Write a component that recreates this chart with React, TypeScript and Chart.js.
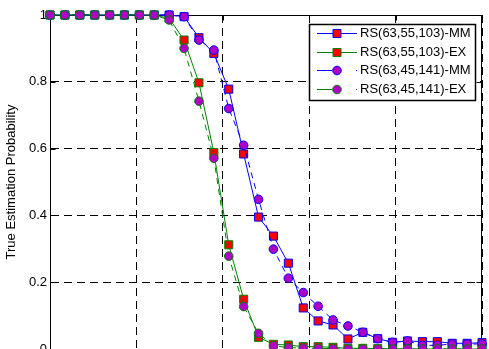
import { useEffect, useRef } from 'react';
import { Chart, registerables } from 'chart.js';

Chart.register(...registerables);

const FONT = '"Liberation Sans", Arial, Helvetica, sans-serif';

// x positions (index of the measurement point; axis labels are cropped in the reference)
const xPoints = [0, 1, 2, 3, 4, 5, 6, 7, 8, 9, 10, 11, 12, 13, 14, 15, 16, 17, 18, 19, 20, 21, 22, 23, 24, 25, 26, 27, 28, 29];
const xGridTicks = [0, 5.8, 11.6, 17.4, 23.2, 29];

const seriesNames = ['RS(63,55,103)-MM', 'RS(63,55,103)-EX', 'RS(63,45,141)-MM', 'RS(63,45,141)-EX'];

const mmSquare = [1, 1, 1, 1, 1, 1, 1, 1, 1, 0.995, 0.932, 0.885, 0.778, 0.584, 0.395, 0.338, 0.257, 0.123, 0.084, 0.072, 0.03, 0.05, 0.031, 0.02, 0.024, 0.022, 0.022, 0.017, 0.017, 0.019];
const exSquare = [1, 1, 1, 1, 1, 1, 1, 1, 0.99, 0.925, 0.797, 0.588, 0.312, 0.149, 0.035, 0.014, 0.012, 0.007, 0.007, 0.005, 0.002, 0.002, 0.001, 0.001, 0, 0, 0, 0, 0, 0];
const mmCircle = [1, 1, 1, 1, 1, 1, 1, 1, 1, 0.995, 0.925, 0.895, 0.72, 0.61, 0.448, 0.299, 0.212, 0.169, 0.128, 0.087, 0.069, 0.05, 0.031, 0.02, 0.024, 0.011, 0.011, 0.015, 0.015, 0.015];
const exCircle = [1, 1, 1, 1, 1, 1, 1, 1, 0.985, 0.9, 0.742, 0.571, 0.278, 0.127, 0.047, 0.01, 0.004, 0.003, 0.002, 0.001, 0, 0, 0, 0, 0, 0, 0, 0, 0, 0];

const yTicks = [0, 0.2, 0.4, 0.6, 0.8, 1];
const yTickLabels = ['0', '0.2', '0.4', '0.6', '0.8', '1'];

const BLUE = '#0000ff';
const GREEN = '#008000';
const RED = '#ff0000';
const MAGENTA = '#b000c8';

type SeriesStyle = { line: string; fill: string; shape: 'rect' | 'circle'; dashed: boolean };
const styles: SeriesStyle[] = [
  { line: BLUE, fill: RED, shape: 'rect', dashed: false },
  { line: GREEN, fill: RED, shape: 'rect', dashed: false },
  { line: BLUE, fill: MAGENTA, shape: 'circle', dashed: true },
  { line: GREEN, fill: MAGENTA, shape: 'circle', dashed: true },
];
const seriesValues = [mmSquare, exSquare, mmCircle, exCircle];

const boxPlugin = {
  id: 'matlabBox',
  beforeDatasetsDraw(chart: any) {
    const { ctx, chartArea } = chart;
    const l = Math.round(chartArea.left) + 0.5;
    const r = Math.round(chartArea.right) - 0.5;
    const t = Math.round(chartArea.top) + 0.5;
    ctx.save();
    ctx.strokeStyle = '#000';
    ctx.lineWidth = 1;
    ctx.setLineDash([]);
    ctx.beginPath();
    ctx.moveTo(l, t);
    ctx.lineTo(r, t);
    ctx.moveTo(r, t);
    ctx.lineTo(r, chartArea.bottom);
    // inner ticks
    const ys = chart.scales.y;
    yTicks.forEach((v) => {
      const py = Math.round(ys.getPixelForValue(v)) + 0.5;
      ctx.moveTo(l, py);
      ctx.lineTo(l + 5, py);
      ctx.moveTo(r, py);
      ctx.lineTo(r - 5, py);
    });
    const xs = chart.scales.x;
    xGridTicks.forEach((v) => {
      const px = Math.round(xs.getPixelForValue(v)) + 0.5;
      ctx.moveTo(px, t);
      ctx.lineTo(px, t + 5);
    });
    ctx.stroke();
    ctx.restore();
  },
};

const legendPlugin = {
  id: 'insideLegend',
  afterDraw(chart: any) {
    const { ctx, chartArea } = chart;
    const bx = chartArea.right - 173;
    const by = chartArea.top + 9;
    const bw = 166;
    const bh = 76;
    ctx.save();
    ctx.fillStyle = '#fff';
    ctx.fillRect(bx, by, bw, bh);
    ctx.strokeStyle = '#000';
    ctx.lineWidth = 1.5;
    ctx.strokeRect(bx + 0.5, by + 0.5, bw, bh);
    ctx.font = `13px ${FONT}`;
    ctx.textBaseline = 'middle';
    seriesNames.forEach((name, k) => {
      const st = styles[k];
      const cy = Math.round(by + 9 + k * 18.6) + 0.5;
      const x1 = bx + 8;
      const x2 = bx + 48;
      const mx = bx + 28;
      ctx.strokeStyle = st.line;
      ctx.lineWidth = 1;
      ctx.setLineDash(st.dashed ? [15, 24] : []);
      ctx.beginPath();
      ctx.moveTo(x1, cy);
      ctx.lineTo(x2, cy);
      ctx.stroke();
      ctx.setLineDash([]);
      ctx.fillStyle = st.fill;
      ctx.beginPath();
      if (st.shape === 'rect') {
        ctx.rect(mx - 4, cy - 4, 8, 8);
      } else {
        ctx.arc(mx, cy, 4.3, 0, Math.PI * 2);
      }
      ctx.fill();
      ctx.stroke();
      ctx.fillStyle = '#000';
      ctx.fillText(name, bx + 51, cy);
    });
    ctx.restore();
  },
};

export default function App() {
  const canvasRef = useRef<HTMLCanvasElement | null>(null);

  useEffect(() => {
    const canvas = canvasRef.current;
    if (!canvas) return;
    const order = [4, 3, 2, 1];
    const datasets = seriesValues.map((vals, k) => {
      const st = styles[k];
      return {
        label: seriesNames[k],
        data: xPoints.map((x, i) => ({ x, y: vals[i] })),
        borderColor: st.line,
        borderWidth: 1,
        borderDash: st.dashed ? [6, 5] : [],
        backgroundColor: st.fill,
        pointStyle: st.shape,
        pointRadius: st.shape === 'rect' ? 5.7 : 4.3,
        pointBorderWidth: 1,
        pointBorderColor: st.line,
        pointBackgroundColor: st.fill,
        pointHoverRadius: st.shape === 'rect' ? 5.7 : 4.3,
        tension: 0,
        fill: false,
        clip: false as any,
        order: order[k],
      };
    });

    const chart = new Chart(canvas, {
      type: 'line',
      data: { datasets },
      options: {
        responsive: false,
        animation: false,
        devicePixelRatio: 1,
        events: [],
        layout: { padding: { left: 0, top: 15, right: 7, bottom: 0 } },
        plugins: {
          legend: { display: false },
          tooltip: { enabled: false },
        },
        scales: {
          x: {
            type: 'linear',
            min: 0,
            max: 29,
            afterBuildTicks: (s: any) => {
              s.ticks = xGridTicks.map((v) => ({ value: v }));
            },
            ticks: { display: false },
            grid: { color: '#000', lineWidth: 1, drawTicks: false },
            border: { display: true, color: '#000', width: 1, dash: [8, 5] },
            afterFit: (s: any) => {
              s.height = 51;
            },
          },
          y: {
            type: 'linear',
            min: 0,
            max: 1,
            afterBuildTicks: (s: any) => {
              s.ticks = yTicks.map((v) => ({ value: v }));
            },
            ticks: {
              color: '#000',
              padding: 3,
              font: { family: FONT, size: 13 },
              callback: (_v: any, i: number) => yTickLabels[i],
            },
            grid: { color: '#000', lineWidth: 1, drawTicks: false },
            border: { display: true, color: '#000', width: 1, dash: [8, 5] },
            title: {
              display: true,
              text: 'True Estimation Probability',
              color: '#000',
              font: { family: FONT, size: 13 },
              padding: { top: 4, bottom: 0 },
            },
            afterFit: (s: any) => {
              s.width = 50;
            },
          },
        },
      } as any,
      plugins: [boxPlugin, legendPlugin],
    });
    return () => chart.destroy();
  }, []);

  return (
    <div style={{ position: 'fixed', left: 0, top: 0, width: 489, height: 349, overflow: 'hidden', background: '#fff' }}>
      <canvas ref={canvasRef} width={489} height={400} style={{ display: 'block', width: 489, height: 400 }} />
    </div>
  );
}
